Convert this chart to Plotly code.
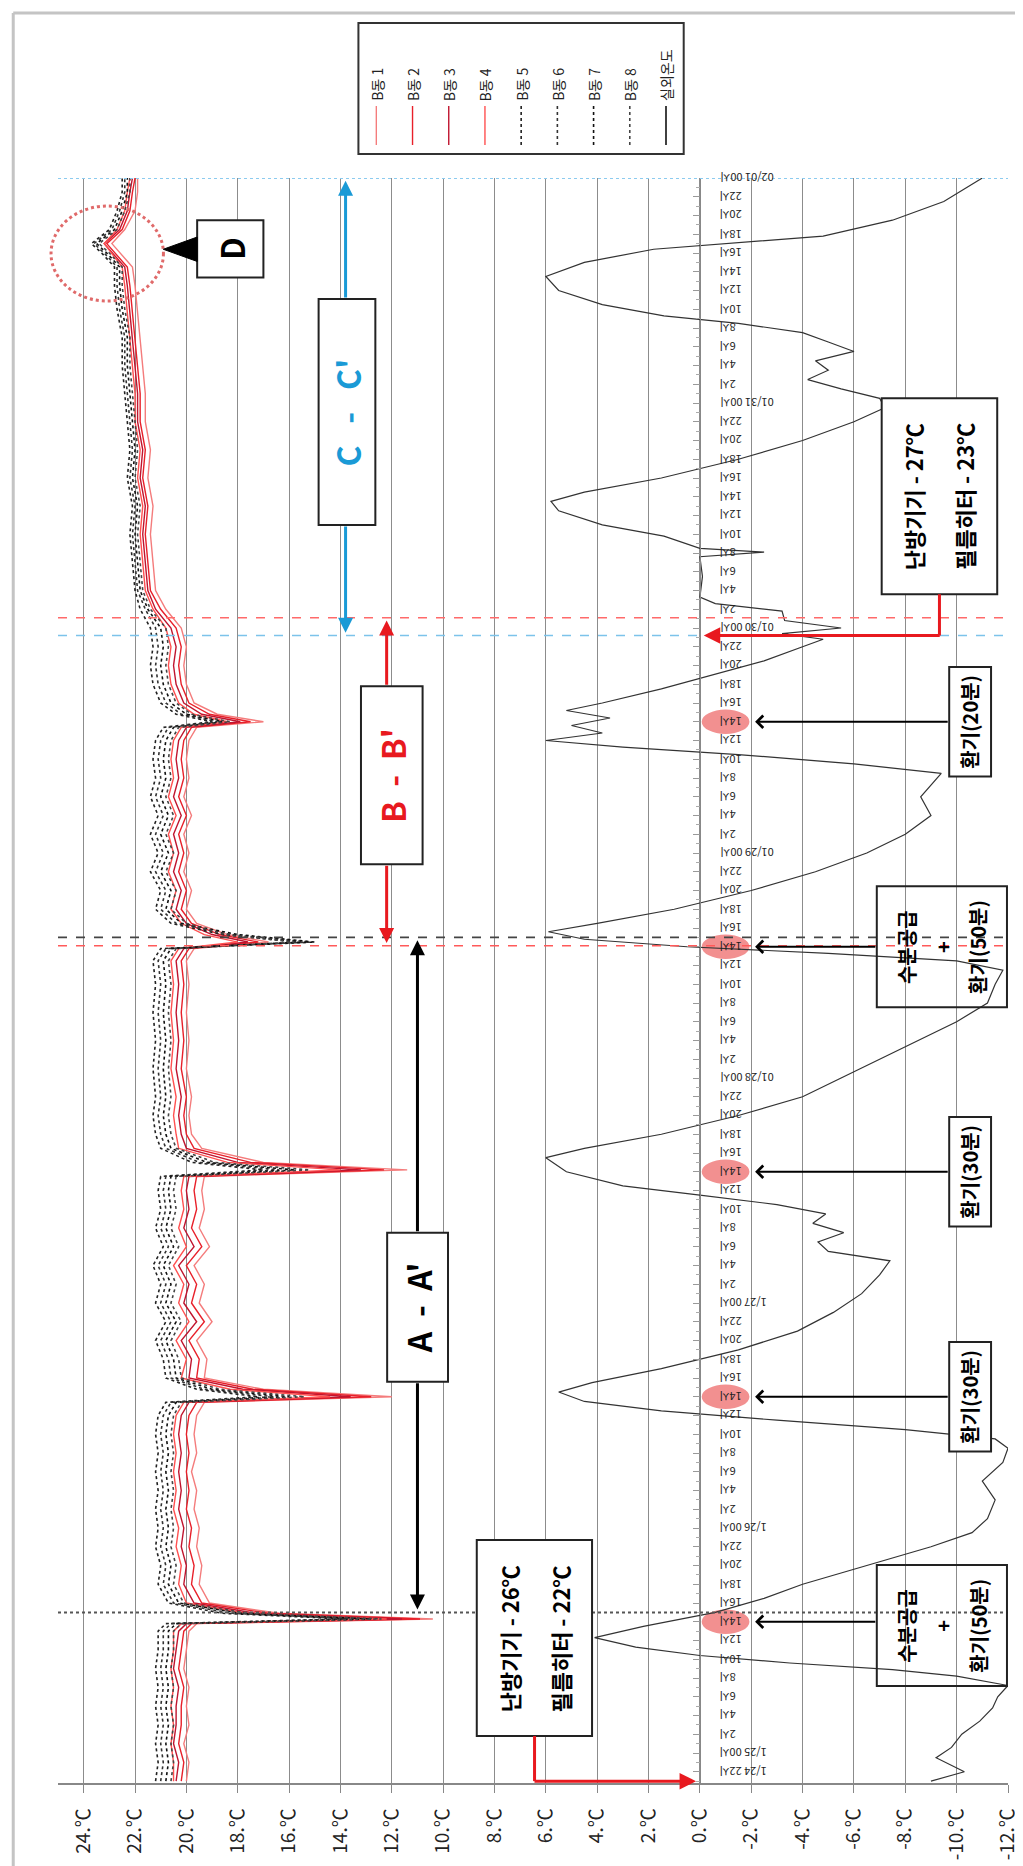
import plotly.graph_objects as go

FONT = "Noto Sans CJK KR, Noto Sans, sans-serif"

# ---------------- axis values / labels ----------------
TEMP_TICKS = [24, 22, 20, 18, 16, 14, 12, 10, 8, 6, 4, 2, 0, -2, -4, -6, -8, -10, -12]
TEMP_TICK_TEXT = [f"{t}.℃" for t in TEMP_TICKS]
TEMP_RANGE = [25, -12]
HOUR_RANGE = [-1.2, 170]          # hours since 1/24 22시

TIME_TICK_HOURS = list(range(0, 171, 2))
DAY_TICK_TEXT = {0: "1/24 22시", 2: "1/25 00시", 26: "1/26 00시", 50: "1/27 00시",
                 74: "01/28 00시", 98: "01/29 00시", 122: "01/30 00시",
                 146: "01/31 00시", 170: "02/01 00시"}
TIME_TICK_TEXT = [DAY_TICK_TEXT.get(h, f"{(h + 22) % 24}시") for h in TIME_TICK_HOURS]
EVENT_14H = [16, 40, 64, 88, 112]

# ---------------- indoor series (B동 1-8) ----------------
HOURS_IN = [-1, 1, 3, 5, 7, 9, 11, 13, 15, 15.8,
            16.3, 16.9, 18, 20, 22, 24, 26, 28, 30, 32,
            34, 36, 38, 39.4, 40.0, 40.8, 42, 44, 46, 48,
            50, 52, 54, 56, 58, 60, 62, 63.5, 64.2, 65.0,
            66.5, 68, 70, 72, 75, 78, 81, 84, 86.5, 87.8,
            88.5, 89.3, 90.5, 92, 94, 96, 98, 100, 102, 104,
            106, 108, 110, 111.4, 112.0, 112.8, 114, 116, 118, 120,
            122, 124, 126, 129, 132, 135, 138, 141, 144, 147,
            150, 153, 156, 158.5, 160.5, 162, 163, 164.5, 166.5, 168.5,
            170]

B1 = [20.0, 19.9, 20.1, 19.9, 20.0, 19.9, 20.1, 20.0, 19.9, 19.6,
      10.4, 16.4, 19.1, 19.5, 19.4, 19.6, 19.5, 19.7, 19.6, 19.8,
      19.6, 19.7, 19.6, 19.3, 12.0, 17.0, 19.3, 19.2, 19.6, 19.0,
      19.5, 19.3, 19.7, 19.1, 19.5, 19.3, 19.4, 19.3, 11.4, 17.0,
      19.4, 19.8, 19.9, 19.8, 20.0, 19.9, 20.0, 19.9, 20.0, 19.7,
      16.8, 18.4, 19.6, 20.0, 19.8, 20.1, 19.9, 20.1, 19.8, 20.1,
      19.9, 20.0, 19.9, 19.6, 17.0, 18.8, 19.7, 20.0, 20.1, 20.0,
      20.2, 20.8, 21.2, 21.3, 21.4, 21.3, 21.5, 21.4, 21.6, 21.6,
      21.7, 21.8, 21.9, 22.0, 22.1, 22.6, 22.9, 22.4, 22.0, 21.9,
      21.9]
B2 = [20.2, 20.1, 20.3, 20.2, 20.2, 20.1, 20.3, 20.2, 20.1, 19.8,
      10.9, 16.8, 19.4, 19.8, 19.7, 19.9, 19.8, 20.0, 19.9, 20.0,
      19.9, 20.0, 19.9, 19.6, 12.8, 17.4, 19.6, 19.5, 19.9, 19.3,
      19.8, 19.6, 20.0, 19.4, 19.8, 19.6, 19.7, 19.6, 12.3, 17.5,
      19.7, 20.0, 20.1, 20.0, 20.2, 20.1, 20.2, 20.1, 20.2, 19.9,
      17.2, 18.7, 19.8, 20.2, 20.0, 20.3, 20.1, 20.3, 20.0, 20.3,
      20.1, 20.2, 20.1, 19.8, 17.5, 19.1, 19.9, 20.2, 20.3, 20.2,
      20.4, 21.0, 21.4, 21.5, 21.6, 21.5, 21.7, 21.6, 21.8, 21.8,
      21.9, 22.0, 22.1, 22.2, 22.3, 22.8, 23.1, 22.5, 22.2, 22.1,
      22.0]
B3 = [20.4, 20.3, 20.5, 20.4, 20.4, 20.3, 20.5, 20.4, 20.3, 20.0,
      11.6, 17.3, 19.7, 20.1, 20.0, 20.2, 20.1, 20.3, 20.2, 20.3,
      20.2, 20.3, 20.2, 19.9, 13.6, 17.8, 19.9, 19.8, 20.2, 19.6,
      20.1, 19.9, 20.3, 19.7, 20.1, 19.9, 20.0, 19.9, 13.2, 18.0,
      20.0, 20.2, 20.3, 20.2, 20.4, 20.3, 20.4, 20.3, 20.4, 20.1,
      17.6, 19.0, 20.0, 20.4, 20.2, 20.5, 20.3, 20.5, 20.2, 20.5,
      20.3, 20.4, 20.3, 20.0, 17.9, 19.4, 20.1, 20.4, 20.5, 20.4,
      20.6, 21.2, 21.5, 21.6, 21.7, 21.6, 21.8, 21.7, 21.9, 21.9,
      22.0, 22.1, 22.2, 22.3, 22.4, 22.9, 23.2, 22.6, 22.3, 22.2,
      22.1]
B4 = [20.5, 20.5, 20.6, 20.5, 20.6, 20.5, 20.6, 20.5, 20.5, 20.2,
      12.2, 17.7, 20.0, 20.3, 20.2, 20.4, 20.3, 20.5, 20.4, 20.5,
      20.4, 20.5, 20.4, 20.1, 14.4, 18.3, 20.2, 20.0, 20.4, 19.9,
      20.3, 20.1, 20.5, 20.0, 20.3, 20.1, 20.2, 20.1, 14.0, 18.4,
      20.3, 20.4, 20.5, 20.4, 20.6, 20.5, 20.6, 20.5, 20.6, 20.3,
      18.0, 19.3, 20.2, 20.6, 20.4, 20.7, 20.5, 20.7, 20.4, 20.7,
      20.5, 20.6, 20.5, 20.2, 18.4, 19.7, 20.3, 20.6, 20.7, 20.6,
      20.8, 21.3, 21.6, 21.7, 21.8, 21.7, 21.9, 21.8, 22.0, 22.0,
      22.1, 22.2, 22.3, 22.4, 22.5, 22.9, 23.2, 22.7, 22.4, 22.3,
      22.2]
B5 = [21.2, 21.1, 21.2, 21.1, 21.2, 21.1, 21.2, 21.1, 21.1, 20.8,
      13.8, 18.6, 20.7, 21.1, 21.0, 21.2, 21.1, 21.2, 21.1, 21.2,
      21.1, 21.2, 21.1, 20.8, 17.2, 19.6, 20.8, 20.9, 21.2, 20.8,
      21.2, 21.0, 21.3, 20.9, 21.2, 21.0, 21.1, 21.0, 17.0, 19.8,
      21.0, 21.2, 21.3, 21.2, 21.3, 21.2, 21.3, 21.2, 21.3, 21.0,
      15.6, 18.6, 20.6, 21.2, 21.0, 21.4, 21.1, 21.4, 21.1, 21.4,
      21.2, 21.3, 21.2, 20.9, 19.0, 20.4, 21.0, 21.3, 21.4, 21.3,
      21.4, 21.8, 22.0, 22.1, 22.2, 22.1, 22.3, 22.2, 22.3, 22.4,
      22.5, 22.5, 22.7, 22.8, 22.8, 23.3, 23.7, 23.0, 22.7, 22.5,
      22.5]
B6 = [21.0, 20.9, 21.0, 20.9, 21.0, 20.9, 21.0, 20.9, 20.9, 20.6,
      13.3, 18.2, 20.5, 20.9, 20.8, 21.0, 20.9, 21.0, 20.9, 21.0,
      20.9, 21.0, 20.9, 20.6, 16.6, 19.3, 20.6, 20.7, 21.0, 20.6,
      21.0, 20.8, 21.1, 20.7, 21.0, 20.8, 20.9, 20.8, 16.4, 19.5,
      20.8, 21.0, 21.1, 21.0, 21.1, 21.0, 21.1, 21.0, 21.1, 20.8,
      15.2, 18.3, 20.4, 21.0, 20.8, 21.2, 20.9, 21.2, 20.9, 21.2,
      21.0, 21.1, 21.0, 20.7, 18.8, 20.2, 20.8, 21.1, 21.2, 21.1,
      21.2, 21.6, 21.9, 22.0, 22.1, 22.0, 22.2, 22.1, 22.2, 22.3,
      22.4, 22.4, 22.6, 22.7, 22.7, 23.2, 23.6, 22.9, 22.6, 22.4,
      22.4]
B7 = [20.8, 20.7, 20.8, 20.7, 20.8, 20.7, 20.8, 20.7, 20.7, 20.4,
      12.8, 17.9, 20.3, 20.7, 20.6, 20.8, 20.7, 20.8, 20.7, 20.8,
      20.7, 20.8, 20.7, 20.4, 16.0, 19.0, 20.4, 20.5, 20.8, 20.4,
      20.8, 20.6, 20.9, 20.5, 20.8, 20.6, 20.7, 20.6, 15.8, 19.2,
      20.6, 20.8, 20.9, 20.8, 20.9, 20.8, 20.9, 20.8, 20.9, 20.6,
      15.0, 18.0, 20.2, 20.8, 20.6, 21.0, 20.7, 21.0, 20.7, 21.0,
      20.8, 20.9, 20.8, 20.5, 18.6, 20.0, 20.6, 20.9, 21.0, 20.9,
      21.0, 21.5, 21.8, 21.9, 22.0, 21.9, 22.1, 22.0, 22.1, 22.2,
      22.3, 22.3, 22.5, 22.6, 22.6, 23.1, 23.5, 22.8, 22.5, 22.3,
      22.3]
B8 = [20.6, 20.5, 20.6, 20.5, 20.6, 20.5, 20.6, 20.5, 20.5, 20.2,
      12.4, 17.6, 20.1, 20.5, 20.4, 20.6, 20.5, 20.6, 20.5, 20.6,
      20.5, 20.6, 20.5, 20.2, 15.4, 18.7, 20.2, 20.3, 20.6, 20.2,
      20.6, 20.4, 20.7, 20.3, 20.6, 20.4, 20.5, 20.4, 15.2, 18.9,
      20.4, 20.6, 20.7, 20.6, 20.7, 20.6, 20.7, 20.6, 20.7, 20.4,
      15.8, 18.5, 20.0, 20.6, 20.4, 20.8, 20.5, 20.8, 20.5, 20.8,
      20.6, 20.7, 20.6, 20.3, 18.3, 19.8, 20.4, 20.7, 20.8, 20.7,
      20.8, 21.4, 21.7, 21.8, 21.9, 21.8, 22.0, 21.9, 22.0, 22.1,
      22.2, 22.2, 22.4, 22.5, 22.5, 23.0, 23.4, 22.7, 22.4, 22.2,
      22.2]

SERIES_NAMES = ["B동 1", "B동 2", "B동 3", "B동 4", "B동 5", "B동 6", "B동 7", "B동 8"]
SERIES_VALUES = [B1, B2, B3, B4, B5, B6, B7, B8]

# ---------------- outdoor temperature (실외온도) ----------------
HOURS_OUT = [-1.0, 0.0, 1.5, 2.6, 4.0, 5.4, 6.8, 8.0, 9.2, 10.2,
             10.9, 11.6, 12.4, 13.3, 14.3, 15.5, 17.0, 18.5, 20.0, 22.0,
             24.0, 25.5, 27.0, 29.0, 31.0, 33.0, 34.5, 35.5, 36.5, 37.5,
             38.5, 39.5, 40.5, 41.5, 43.0, 45.0, 47.0, 49.0, 51.0, 53.0,
             54.5, 55.5, 56.5, 57.5, 58.5, 59.5, 60.5, 61.5, 62.5, 64.0,
             65.5, 66.5, 68.0, 70.0, 72.0, 74.0, 76.0, 78.0, 80.0, 82.0,
             84.0, 85.5, 86.5, 87.3, 88.0, 88.8, 89.6, 90.5, 92.0, 94.0,
             96.0, 98.0, 100.0, 102.0, 104.0, 106.5, 107.5, 108.5, 109.3, 110.0,
             110.8, 111.6, 112.4, 113.2, 114.0, 115.5, 117.0, 118.5, 120.0, 120.8,
             121.4, 122.0, 122.8, 123.8, 124.6, 125.3, 127.5, 129.6, 130.1, 130.5,
             131.8, 133.0, 134.5, 135.5, 136.5, 138.0, 140.0, 142.0, 144.0, 145.5,
             146.5, 147.5, 148.5, 149.5, 150.5, 151.5, 152.5, 153.5, 154.5, 155.3,
             156.5, 158.0, 159.5, 161.0, 162.4, 163.8, 165.5, 167.5, 170.0]
T_OUT = [-9.0, -10.3, -9.2, -9.8, -10.2, -10.9, -11.4, -11.6, -12.0, -10.0,
         -7.5, -3.5, 0.0, 2.5, 4.1, 2.2, -0.6, -2.5, -4.0, -6.5,
         -9.0, -10.6, -11.2, -11.5, -11.0, -11.8, -12.0, -11.5, -8.0, -3.0,
         1.5, 4.5, 5.5, 4.2, 1.5, -1.5, -3.8, -5.2, -6.3, -7.0,
         -7.4, -5.0, -4.6, -5.6, -4.4, -4.9, -3.0, 0.0, 3.0, 5.2,
         6.0, 4.5, 1.5, -1.5, -4.0, -5.5, -7.0, -8.5, -10.0, -11.2,
         -11.5, -11.8, -10.0, -5.0, 0.5, 4.5, 5.9, 4.0, 1.0, -2.0,
         -4.5, -6.5, -8.0, -9.0, -8.6, -9.4, -6.0, -1.5, 3.0, 6.0,
         3.8, 5.0, 3.5, 5.2, 3.8, 1.5, -0.5, -2.5, -4.0, -4.8,
         -3.2, -5.5, -3.3, -3.2, -0.6, 0.0, -0.1, 0.0, -2.5, 0.0,
         1.4, 3.8, 5.5, 5.8, 4.5, 1.5, -1.5, -4.0, -6.0, -7.2,
         -7.0, -5.5, -4.2, -5.0, -4.5, -6.0, -5.0, -4.0, -1.5, 1.4,
         3.8, 5.5, 6.0, 4.5, 1.8, -4.8, -7.5, -9.5, -11.0]

assert len(HOURS_IN) == 91 and all(len(s) == 91 for s in SERIES_VALUES)
assert len(HOURS_OUT) == len(T_OUT)

# ---------------- styles ----------------
LINE_STYLES = [
    dict(color="#f47c7c", width=1.4, dash="solid"),
    dict(color="#e8202a", width=1.4, dash="solid"),
    dict(color="#c0142e", width=1.4, dash="solid"),
    dict(color="#ff5050", width=1.4, dash="solid"),
    dict(color="#222222", width=1.6, dash="dot"),
    dict(color="#333333", width=1.6, dash="dot"),
    dict(color="#111111", width=1.6, dash="dot"),
    dict(color="#444444", width=1.6, dash="dot"),
]
OUT_STYLE = dict(color="#333333", width=1.2)

W, H = 1023, 1866
PL, PR, PT, PB = 50, 1005, 170, 1775


def PX(px):
    return (px - PL) / (PR - PL)


def PY(py):
    return (PB - py) / (PB - PT)


fig = go.Figure()
fig.add_trace(go.Scatter(x=T_OUT, y=HOURS_OUT, mode="lines", line=OUT_STYLE,
                         name="실외온도", showlegend=False))
for name, vals, st in zip(SERIES_NAMES, SERIES_VALUES, LINE_STYLES):
    fig.add_trace(go.Scatter(x=vals, y=HOURS_IN, mode="lines", line=st,
                             name=name, showlegend=False))

shapes = []
annotations = []

# pink ellipses behind 14시 labels
for h in EVENT_14H:
    shapes.append(dict(type="circle", xref="x", yref="y", x0=-0.07, x1=-1.93,
                       y0=h - 1.3, y1=h + 1.3, fillcolor="rgba(240,125,125,0.85)",
                       line=dict(width=0), layer="below"))


def hline(h, color, dash, width=1.6):
    shapes.append(dict(type="line", xref="paper", yref="y", x0=0, x1=1, y0=h, y1=h,
                       line=dict(color=color, dash=dash, width=width), layer="above"))


hline(17, "#555555", "dot", 2)
hline(88.1, "#ff5a5a", "dash")
hline(89, "#444444", "dash")
hline(121.2, "#7cc3ea", "dash")
hline(123.1, "#ff6a6a", "dash")
hline(170, "#8ccbef", "dot", 2)


def rect(x0, x1, y0, y1, fill="white", width=2):
    shapes.append(dict(type="rect", xref="x", yref="y", x0=x0, x1=x1, y0=y0, y1=y1,
                       fillcolor=fill, line=dict(color="#222222", width=width), layer="above"))


def txt(x, y, text, size, color="black", bold=True, angle=-90, xanchor="center",
        yanchor="middle", xref="x", yref="y"):
    annotations.append(dict(x=x, y=y, xref=xref, yref=yref,
                            text=f"<b>{text}</b>" if bold else text, showarrow=False,
                            textangle=angle, xanchor=xanchor, yanchor=yanchor,
                            font=dict(size=size, color=color, family=FONT)))


def arrow(x0, y0, x1, y1, color, width, head, size=1.0, side="end"):
    annotations.append(dict(x=x1, y=y1, ax=x0, ay=y0, xref="x", yref="y", axref="x",
                            ayref="y", text="", showarrow=True, arrowhead=head,
                            arrowsize=size, arrowwidth=width, arrowcolor=color,
                            arrowside=side, standoff=0, startstandoff=0))


# Box 1: 난방기기 - 26℃ / 필름히터 - 22℃
rect(8.69, 4.20, 3.81, 24.72)
txt(7.45, 14.2, "난방기기 - 26℃", 22)
txt(5.45, 14.2, "필름히터 - 22℃", 22)
shapes.append(dict(type="line", xref="x", yref="y", x0=6.44, x1=6.44, y0=3.81, y1=-1.0,
                   line=dict(color="#e8191f", width=3), layer="above"))
arrow(6.50, -1.0, 0.15, -1.0, "#e8191f", 3, 2, 1.1)

# Box 7: 난방기기 - 27℃ / 필름히터 - 23℃
rect(-7.08, -11.58, 125.6, 146.5)
txt(-8.28, 136.0, "난방기기 - 27℃", 22)
txt(-10.29, 136.0, "필름히터 - 23℃", 22)
shapes.append(dict(type="line", xref="x", yref="y", x0=-9.33, x1=-9.33, y0=125.6, y1=121.2,
                   line=dict(color="#e8191f", width=3), layer="above"))
arrow(-9.40, 121.2, -0.15, 121.2, "#e8191f", 3, 2, 1.1)

# 수분공급 + 환기(50분) boxes
for hc, ha in ((15.6, 16), (88.0, 88)):
    rect(-6.89, -11.96, hc - 6.45, hc + 6.45, fill="rgba(0,0,0,0)")
    txt(-8.04, hc, "수분공급", 20)
    txt(-9.44, hc, "+", 20)
    txt(-10.84, hc, "환기(50분)", 20)
    arrow(-6.89, ha, -2.15, ha, "black", 2, 4, 1.2)

# 환기 boxes
for hc, label in ((40, "환기(30분)"), (64, "환기(30분)"), (112, "환기(20분)")):
    rect(-9.71, -11.34, hc - 5.85, hc + 5.85)
    txt(-10.52, hc, label, 20)
    arrow(-9.71, hc, -2.15, hc, "black", 2, 4, 1.2)

# A - A'
rect(12.18, 9.81, 41.6, 57.5)
txt(11.0, 49.5, "A &nbsp;- &nbsp;A'", 32)
arrow(11.0, 41.6, 11.0, 17.3, "black", 3, 2, 1.0)
arrow(11.0, 57.5, 11.0, 88.7, "black", 3, 2, 1.0)

# B - B'
rect(13.2, 10.8, 96.8, 115.8)
txt(12.0, 106.3, "B &nbsp;- &nbsp;B'", 32, color="#e8191f")
arrow(12.2, 96.8, 12.2, 88.4, "#e8191f", 3, 2, 1.0)
arrow(12.2, 115.8, 12.2, 122.8, "#e8191f", 3, 2, 1.0)

# C - C'
rect(14.85, 12.64, 133.0, 157.1)
txt(13.74, 145.0, "C &nbsp; - &nbsp; C'", 32, color="#1a9ad6")
arrow(13.8, 133.0, 13.8, 121.5, "#1a9ad6", 3, 2, 1.0)
arrow(13.8, 157.1, 13.8, 169.7, "#1a9ad6", 3, 2, 1.0)

# D marker
shapes.append(dict(type="circle", xref="paper", yref="paper", x0=PX(43), x1=PX(156),
                   y0=PY(293), y1=PY(198), line=dict(color="#e06a6a", width=3, dash="dot"),
                   layer="above"))
rect(19.58, 17.0, 159.4, 165.5)
shapes.append(dict(type="path", xref="x", yref="y",
                   path="M 20.9,162.4 L 19.58,163.7 L 19.58,161.1 Z",
                   fillcolor="black", line=dict(color="black", width=1), layer="above"))
txt(18.29, 162.45, "D", 32)

# time-axis tick labels (upside-down, right of the 0℃ axis)
for h, lab in zip(TIME_TICK_HOURS, TIME_TICK_TEXT):
    txt(-0.7, h, lab, 11, color="#222222", bold=False, angle=180, xanchor="left")

# ---------------- manual rotated legend ----------------
shapes.append(dict(type="rect", xref="paper", yref="paper", x0=PX(352), x1=PX(679),
                   y0=PY(146), y1=PY(15), line=dict(color="#333333", width=2),
                   fillcolor="white"))
LEGEND_NAMES = SERIES_NAMES + ["실외온도"]
LEGEND_STYLES = LINE_STYLES + [dict(color="#111111", width=1.6, dash="solid")]
for i, (nm, st) in enumerate(zip(LEGEND_NAMES, LEGEND_STYLES)):
    px = 370 + 36.4 * i
    shapes.append(dict(type="line", xref="paper", yref="paper", x0=PX(px), x1=PX(px),
                       y0=PY(137), y1=PY(98),
                       line=dict(color=st["color"], width=st["width"], dash=st["dash"])))
    txt(PX(px), PY(95), nm, 14, color="#222222", bold=False, angle=-90,
        yanchor="bottom", xref="paper", yref="paper")

# outer frame lines
shapes.append(dict(type="line", xref="paper", yref="paper", x0=PX(5), x1=PX(5),
                   y0=PY(5), y1=PY(1866), line=dict(color="#c4c4c4", width=3)))
shapes.append(dict(type="line", xref="paper", yref="paper", x0=PX(5), x1=PX(1023),
                   y0=PY(5), y1=PY(5), line=dict(color="#c4c4c4", width=3)))

fig.update_layout(
    width=W, height=H, autosize=False,
    margin=dict(l=PL, r=W - PR, t=PT, b=H - PB, pad=0),
    paper_bgcolor="white", plot_bgcolor="white",
    showlegend=False,
    font=dict(family=FONT, color="#222222"),
    shapes=shapes, annotations=annotations,
    xaxis=dict(range=TEMP_RANGE, tickmode="array", tickvals=TEMP_TICKS,
               ticktext=TEMP_TICK_TEXT, tickangle=-90, ticks="outside", ticklen=8,
               tickcolor="#888888", showgrid=True, gridcolor="#8c8c8c", gridwidth=1,
               zeroline=False, showline=True, linecolor="#888888", linewidth=1.5,
               tickfont=dict(size=19, color="#222222", family=FONT),
               ticklabelstandoff=8, domain=[0, 1]),
    yaxis=dict(range=HOUR_RANGE, anchor="free", position=PX(695.3), side="right",
               tickmode="linear", tick0=0, dtick=2, ticks="inside", ticklen=7,
               tickcolor="#999999", showticklabels=False, showgrid=False,
               zeroline=False, showline=True, linecolor="#888888", linewidth=1,
               minor=dict(tickmode="linear", tick0=0, dtick=1, ticks="inside",
                          ticklen=4, tickcolor="#aaaaaa"),
               domain=[0, 1]),
)

fig.write_html("out.html")
